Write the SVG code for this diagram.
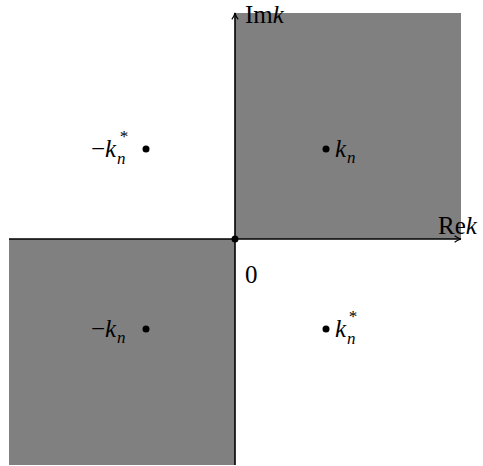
<svg xmlns="http://www.w3.org/2000/svg" width="483" height="466" viewBox="0 0 483 466">
<style>
.q{fill:#808080;stroke:none}
.ax{stroke:#000;stroke-width:1.6;fill:none}
.t{font-family:"Liberation Serif","DejaVu Serif",serif;font-size:25px;fill:#000}
.i{font-style:italic}
.s{font-family:"Liberation Serif","DejaVu Serif",serif;font-size:17px;font-style:italic;fill:#000}
.d{fill:#000}
</style>
<defs>
<marker id="ar" viewBox="0 0 10 10" refX="9" refY="5" markerWidth="8" markerHeight="8" orient="auto" markerUnits="userSpaceOnUse">
<path d="M1,1 Q5,4 9,5 Q5,6 1,9" fill="none" stroke="#000" stroke-width="1.4"/>
</marker>
</defs>
<g id="quadrant1"><rect class="q" x="235" y="13" width="226" height="226"/></g>
<g id="quadrant3"><rect class="q" x="9" y="239" width="226" height="226"/></g>
<g id="connectors">
<line class="ax" x1="9" y1="239" x2="461" y2="239" marker-end="url(#ar)"/>
<line class="ax" x1="235" y1="465" x2="235" y2="13" marker-end="url(#ar)"/>
</g>
<g id="origin"><circle class="d" cx="235" cy="239" r="3.5"/><text class="t" x="245" y="283">0</text></g>
<g id="imlabel"><text class="t" x="245" y="23">Im<tspan class="i">k</tspan></text></g>
<g id="relabel"><text class="t" x="438" y="234">Re<tspan class="i">k</tspan></text></g>
<g id="kn"><circle class="d" cx="326" cy="149" r="3.5"/><text class="t i" x="335" y="157">k</text><text class="s" x="347" y="163">n</text></g>
<g id="mknstar"><circle class="d" cx="146" cy="149" r="3.5"/><text class="t" x="91" y="157">−<tspan class="i">k</tspan></text><text class="s" x="119" y="142">*</text><text class="s" x="117" y="164">n</text></g>
<g id="mkn"><circle class="d" cx="146" cy="329" r="3.5"/><text class="t" x="91" y="337">−<tspan class="i">k</tspan></text><text class="s" x="117" y="343">n</text></g>
<g id="knstar"><circle class="d" cx="326" cy="329" r="3.5"/><text class="t i" x="335" y="337">k</text><text class="s" x="348" y="322">*</text><text class="s" x="347" y="344">n</text></g>
</svg>
